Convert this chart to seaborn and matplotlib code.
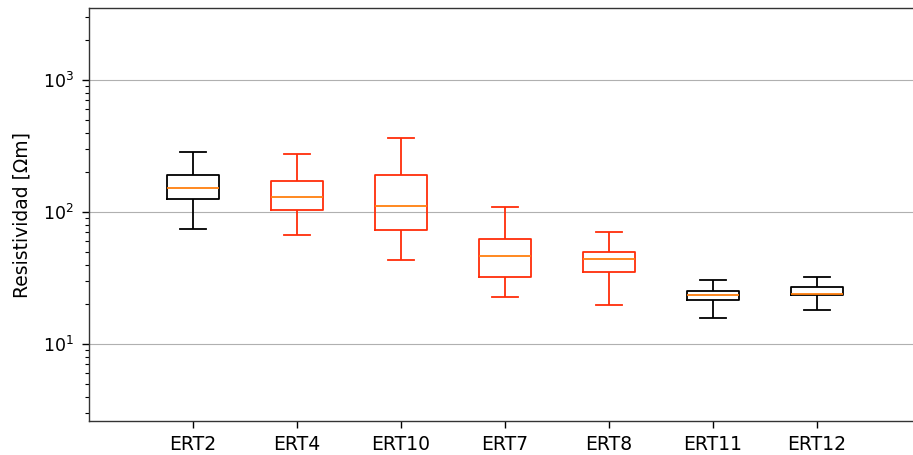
import numpy as np
import pandas as pd
import matplotlib
matplotlib.use("Agg")
import matplotlib.pyplot as plt
import seaborn as sns

# Resistivity summary per ERT line: whisker low, Q1, median, Q3, whisker high (Ohm·m)
lines = ["ERT2", "ERT4", "ERT10", "ERT7", "ERT8", "ERT11", "ERT12"]
low = [74, 67, 43.3, 22.8, 19.7, 15.8, 18.0]
q1 = [125, 103, 72.6, 32.3, 35.3, 21.4, 23.4]
median = [152, 130, 111, 46.7, 44.0, 23.5, 23.9]
q3 = [191, 171, 189, 62.8, 49.5, 25.1, 26.9]
high = [285, 274, 365, 108.5, 70.6, 30.5, 32.4]
line_colors = ["black", "#ff2d0a", "#ff2d0a", "#ff2d0a", "#ff2d0a", "black", "black"]

rows = []
for name, vals in zip(lines, zip(low, q1, median, q3, high)):
    for v in vals:
        rows.append({"linea": name, "rho": v})
df = pd.DataFrame(rows)

fig = plt.figure(figsize=(9.13, 4.55), dpi=100)
ax = fig.add_axes([89 / 913, 1 - 421 / 455, 832 / 913, 413 / 455])

sns.boxplot(
    data=df, x="linea", y="rho", hue="linea", order=lines, hue_order=lines,
    palette=dict(zip(lines, line_colors)), fill=False, width=0.5,
    whis=(0, 100), log_scale=(False, True), legend=False, ax=ax,
    linewidth=1.3,
    medianprops={"color": "#ff7f0e", "linewidth": 1.3},
)

ax.set_xlim(-1, 7)
ax.set_ylim(2.61, 3510)
ax.yaxis.grid(True, which="major", color="#b0b0b0", linewidth=0.8)
ax.set_axisbelow(True)
ax.set_xlabel("")
ax.set_ylabel("Resistividad [Ωm]", fontsize=13.5, labelpad=8)
ax.tick_params(axis="both", which="major", length=4.8, width=1.0, pad=6)
ax.tick_params(axis="x", which="major", labelsize=13.5, pad=5)
ax.tick_params(axis="y", which="major", labelsize=12.5)
ax.tick_params(axis="y", which="minor", length=2.8, width=0.8)
for s in ax.spines.values():
    s.set_color("#333333")
    s.set_linewidth(1.0)

fig.savefig("out.png", dpi=100)
